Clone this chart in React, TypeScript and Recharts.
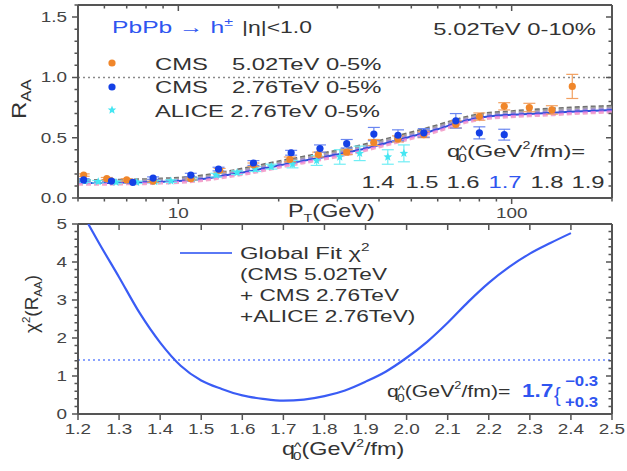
import React from 'react';
import { ComposedChart, Line, Scatter, ErrorBar, XAxis, YAxis, ReferenceLine } from 'recharts';

const FONT = '"Liberation Sans", Arial, Helvetica, sans-serif';
const INK = '#333';
const BLUE = '#2f55f0';
const AX = '#555';

// ---------- top panel: R_AA vs pT ----------
const ptGrid = [5, 6, 7, 8, 9, 10, 12, 14, 17, 20, 25, 30, 35, 40, 50, 60, 70, 80, 100, 120, 150, 200];
const raaQ14 = [0.15, 0.15, 0.153, 0.156, 0.162, 0.168, 0.19, 0.22, 0.265, 0.305, 0.355, 0.395, 0.435, 0.475, 0.545, 0.605, 0.66, 0.695, 0.72, 0.735, 0.75, 0.765];
const raaQ15 = [0.142, 0.142, 0.145, 0.148, 0.153, 0.159, 0.18, 0.21, 0.253, 0.293, 0.343, 0.383, 0.423, 0.463, 0.533, 0.593, 0.65, 0.685, 0.71, 0.723, 0.738, 0.753];
const raaQ16 = [0.133, 0.133, 0.136, 0.139, 0.144, 0.149, 0.17, 0.2, 0.241, 0.281, 0.331, 0.371, 0.411, 0.451, 0.521, 0.581, 0.64, 0.675, 0.7, 0.711, 0.726, 0.741];
const raaQ17 = [0.125, 0.125, 0.128, 0.13, 0.135, 0.14, 0.16, 0.19, 0.23, 0.27, 0.32, 0.36, 0.4, 0.44, 0.51, 0.57, 0.63, 0.665, 0.69, 0.7, 0.715, 0.73];
const raaQ18 = [0.117, 0.117, 0.12, 0.122, 0.127, 0.132, 0.151, 0.18, 0.219, 0.259, 0.309, 0.349, 0.389, 0.429, 0.499, 0.559, 0.62, 0.655, 0.68, 0.69, 0.704, 0.719];
const raaQ19 = [0.11, 0.11, 0.113, 0.115, 0.12, 0.125, 0.143, 0.171, 0.209, 0.249, 0.299, 0.339, 0.379, 0.419, 0.489, 0.549, 0.61, 0.645, 0.67, 0.68, 0.694, 0.709];
const qLabels = ['1.4', '1.5', '1.6', '1.7', '1.8', '1.9'];

const cms502Pt = [5.2, 6.1, 7.0, 8.4, 10.9, 13.3, 16.8, 21.6, 26.3, 32, 38.6, 45.6, 54.5, 68, 80, 95, 113, 132, 152];
const cms502Raa = [0.19, 0.16, 0.15, 0.14, 0.16, 0.23, 0.275, 0.32, 0.36, 0.38, 0.46, 0.49, 0.525, 0.61, 0.675, 0.76, 0.75, 0.73, 0.925];
const cms502Err = [0.01, 0.01, 0.01, 0.01, 0.01, 0.015, 0.015, 0.02, 0.02, 0.02, 0.025, 0.025, 0.025, 0.03, 0.03, 0.03, 0.035, 0.035, 0.1];

const cms276Pt = [5.2, 6.3, 7.3, 8.4, 10.9, 13.2, 16.8, 21.8, 26.6, 32, 38.6, 45.6, 54.5, 68, 80, 95];
const cms276Raa = [0.15, 0.14, 0.13, 0.165, 0.19, 0.24, 0.29, 0.375, 0.41, 0.45, 0.53, 0.52, 0.54, 0.64, 0.54, 0.525];
const cms276Err = [0.01, 0.01, 0.01, 0.01, 0.015, 0.015, 0.02, 0.02, 0.03, 0.035, 0.055, 0.045, 0.035, 0.06, 0.05, 0.045];

const alicePt = [5.25, 5.75, 6.5, 7.5, 8.5, 9.5, 11, 13, 15, 17, 19, 22, 26, 30.5, 35, 42.5, 47.5];
const aliceRaa = [0.14, 0.135, 0.13, 0.13, 0.135, 0.14, 0.16, 0.19, 0.21, 0.24, 0.26, 0.28, 0.31, 0.34, 0.37, 0.34, 0.37];
const aliceErr = [0.01, 0.01, 0.01, 0.01, 0.01, 0.01, 0.01, 0.015, 0.015, 0.02, 0.02, 0.03, 0.04, 0.06, 0.06, 0.06, 0.07];

const ptMajor = [10, 100];
const ptMinor = [5, 6, 7, 8, 9, 20, 30, 40, 50, 60, 70, 80, 90, 200];
const raaMajor = [0, 0.5, 1, 1.5];
const raaMinor = [0.1, 0.2, 0.3, 0.4, 0.6, 0.7, 0.8, 0.9, 1.1, 1.2, 1.3, 1.4, 1.6];

// ---------- bottom panel: chi2 vs q0 ----------
const q0Grid = [1.225, 1.25, 1.3, 1.35, 1.4, 1.45, 1.5, 1.55, 1.6, 1.65, 1.7, 1.75, 1.8, 1.85, 1.9, 1.95, 2.0, 2.05, 2.1, 2.15, 2.2, 2.25, 2.3, 2.35, 2.4];
const chi2Vals = [5.0, 4.52, 3.6, 2.66, 1.88, 1.27, 0.88, 0.66, 0.49, 0.4, 0.35, 0.38, 0.47, 0.62, 0.85, 1.12, 1.48, 1.9, 2.4, 2.95, 3.45, 3.87, 4.22, 4.5, 4.76];
const chi2Cut = 1.42;
const q0Major = [1.2, 1.3, 1.4, 1.5, 1.6, 1.7, 1.8, 1.9, 2.0, 2.1, 2.2, 2.3, 2.4, 2.5];
const chiMajor = [0, 1, 2, 3, 4, 5];
const chiMinor = [0.2, 0.4, 0.6, 0.8, 1.2, 1.4, 1.6, 1.8, 2.2, 2.4, 2.6, 2.8, 3.2, 3.4, 3.6, 3.8, 4.2, 4.4, 4.6, 4.8];

const curveStyle: Record<string, { stroke: string; dash?: string }> = {
  '1.4': { stroke: '#707070', dash: '5 3' },
  '1.5': { stroke: '#a2a2a2', dash: '5 3' },
  '1.6': { stroke: '#a08ad8', dash: '5 3' },
  '1.7': { stroke: '#2f4fd8' },
  '1.8': { stroke: '#d676e6', dash: '5 3' },
  '1.9': { stroke: '#f3a6cc', dash: '5 3' },
};

const theory = [raaQ14, raaQ15, raaQ16, raaQ17, raaQ18, raaQ19].map((vals, k) => ({
  q: qLabels[k],
  data: ptGrid.map((x, i) => ({ x, y: vals[i] })),
}));
const toPts = (xs: number[], ys: number[], es: number[]) => xs.map((x, i) => ({ x, y: ys[i], e: es[i] }));
const cms502 = toPts(cms502Pt, cms502Raa, cms502Err);
const cms276 = toPts(cms276Pt, cms276Raa, cms276Err);
const alice = toPts(alicePt, aliceRaa, aliceErr);
const chi2Data = q0Grid.map((x, i) => ({ x, y: chi2Vals[i] }));

const sortNum = (a: number[]) => [...a].sort((p, q) => p - q);
const isIn = (arr: number[], v: number) => arr.some((m) => Math.abs(m - v) < 1e-6);

// plot box width, shared by both panels (mirrors ticks onto the right frame)
const PLOT_W = 534;

function yTick(majors: number[], fmt: (v: number) => string) {
  return (props: any) => {
    const x = Number(props.x);
    const y = Number(props.y);
    const v = props.payload.value;
    const major = isIn(majors, v);
    const len = major ? 6 : 3.5;
    const xr = x + PLOT_W;
    return (
      <g>
        <path d={`M${x},${y}L${x - len},${y}M${xr},${y}L${xr - len},${y}`} stroke={AX} strokeWidth={1.5} fill="none" />
        {major && (
          <g transform={`translate(${x - 11},${y + 5}) scale(1.35,1)`}>
            <text x={0} y={0} fontSize={14} fill="#444" fontFamily={FONT} textAnchor="end">{fmt(v)}</text>
          </g>
        )}
      </g>
    );
  };
}

function xTick(majors: number[], plotH: number, fmt: (v: number) => string) {
  return (props: any) => {
    const x = Number(props.x);
    const y = Number(props.y);
    const v = props.payload.value;
    const major = isIn(majors, v);
    const len = major ? 6 : 3.5;
    const yt = y - plotH;
    return (
      <g>
        <path d={`M${x},${y}L${x},${y + len}M${x},${yt}L${x},${yt + len}`} stroke={AX} strokeWidth={1.5} fill="none" />
        {major && (
          <g transform={`translate(${x},${y + 20}) scale(1.35,1)`}>
            <text x={0} y={0} fontSize={14} fill="#444" fontFamily={FONT} textAnchor="middle">{fmt(v)}</text>
          </g>
        )}
      </g>
    );
  };
}

function T({ x, y, size = 17, fill = INK, weight = 400, anchor = 'start', sx = 1.4, rot = 0, children }: any) {
  return (
    <g transform={`translate(${x},${y}) rotate(${rot}) scale(${sx},1)`}>
      <text x={0} y={0} fontSize={size} fill={fill} fontWeight={weight} textAnchor={anchor} fontFamily={FONT}>
        {children}
      </text>
    </g>
  );
}

function QLabel({ x, y, size = 17, sx = 1.4, eq = false }: any) {
  return (
    <g transform={`translate(${x},${y}) scale(${sx},1)`}>
      <text x={0} y={0} fontFamily={FONT} fontSize={size} fill={INK}>
        q
        <tspan fontSize={size * 0.7} dx={-size * 0.05} dy={-size * 0.2}>^</tspan>
        <tspan fontSize={size * 0.65} dx={-size * 0.36} dy={size * 0.5}>0</tspan>
        <tspan dy={-size * 0.3}>(GeV</tspan>
        <tspan fontSize={size * 0.6} dy={-size * 0.45}>2</tspan>
        <tspan dy={size * 0.45}>{eq ? '/fm)=' : '/fm)'}</tspan>
      </text>
    </g>
  );
}

const starPath = (cx: number, cy: number, ro = 4.5, ri = 2) => {
  let d = '';
  for (let i = 0; i < 10; i++) {
    const r = i % 2 === 0 ? ro : ri;
    const a = -Math.PI / 2 + (i * Math.PI) / 5;
    d += `${i === 0 ? 'M' : 'L'}${cx + r * Math.cos(a)},${cy + r * Math.sin(a)}`;
  }
  return d + 'Z';
};

const dot = (fill: string) => (p: any) => <circle cx={p.cx} cy={p.cy} r={3.6} fill={fill} />;
const star = (fill: string) => (p: any) => <path d={starPath(p.cx, p.cy)} fill={fill} />;

const fmt1 = (v: number) => v.toFixed(1);

export default function App() {
  const ptTicks = sortNum([...ptMajor, ...ptMinor]);
  const raaTicks = sortNum([...raaMajor, ...raaMinor]);
  const chiTicks = sortNum([...chiMajor, ...chiMinor]);

  return (
    <div style={{ position: 'absolute', left: 0, top: 0, width: 627, height: 471, background: '#fff' }}>
      <svg width={627} height={471} style={{ position: 'absolute', left: 0, top: 0 }}>
        {/* top panel annotations */}
        <T x={112} y={33} fill={BLUE} sx={1.45}>
          PbPb → h<tspan fontSize={11} dy={-7}>±</tspan>
        </T>
        <T x={242} y={33} sx={1.35}>|η|&lt;1.0</T>
        <T x={596} y={35} anchor="end">5.02TeV 0-10%</T>

        <circle cx={112} cy={63} r={3.6} fill="#f0862a" />
        <circle cx={112} cy={87} r={3.6} fill="#1440e6" />
        <path d={starPath(112, 110)} fill="#45e6f2" />
        <T x={155} y={70}>CMS</T>
        <T x={232} y={70}>5.02TeV 0-5%</T>
        <T x={155} y={93}>CMS</T>
        <T x={232} y={93}>2.76TeV 0-5%</T>
        <T x={155} y={117}>ALICE 2.76TeV 0-5%</T>

        <QLabel x={447} y={157} eq />
        {qLabels.map((q, i) => (
          <T key={q} x={[378, 422, 463, 505, 547, 588][i]} y={188} anchor="middle" fill={q === '1.7' ? BLUE : INK}>{q}</T>
        ))}

        <T x={288} y={217} size={18} sx={1.3}>
          P<tspan fontSize={11} dy={5}>T</tspan><tspan dy={-5}>(GeV)</tspan>
        </T>
        <T x={26} y={119} size={20} sx={1.2} rot={-90}>
          R<tspan fontSize={14} dy={5}>AA</tspan>
        </T>

        {/* bottom panel annotations */}
        <line x1={180} y1={253} x2={232} y2={253} stroke="#5a78f5" strokeWidth={2.2} />
        <T x={240} y={259} sx={1.4}>
          Global Fit χ<tspan fontSize={11} dy={-8}>2</tspan>
        </T>
        <T x={240} y={280} sx={1.33}>(CMS 5.02TeV</T>
        <T x={240} y={301} sx={1.33}>+ CMS 2.76TeV</T>
        <T x={240} y={322} sx={1.33}>+ALICE 2.76TeV)</T>

        <QLabel x={387} y={397} sx={1.25} eq />
        <T x={522} y={397} size={18} sx={1.25} weight={700} fill={BLUE}>1.7</T>
        <T x={554} y={402} size={20} sx={1} fill={BLUE}>{'{'}</T>
        <T x={565} y={386} size={14} sx={1.2} weight={700} fill={BLUE}>−0.3</T>
        <T x={565} y={407} size={14} sx={1.2} weight={700} fill={BLUE}>+0.3</T>

        <QLabel x={282} y={455} size={18} sx={1.3} />
        <T x={38} y={333} size={18} sx={1.05} rot={-90}>
          χ<tspan fontSize={11} dy={-8}>2</tspan><tspan dy={8}>(R</tspan><tspan fontSize={11} dy={4}>AA</tspan><tspan dy={-4}>)</tspan>
        </T>
      </svg>

      <div style={{ position: 'absolute', left: 0, top: 0 }}>
        <ComposedChart width={627} height={220} margin={{ top: 5, right: 15, bottom: 0, left: 20 }}>
          <XAxis dataKey="x" type="number" scale="log" domain={[5, 200]} allowDataOverflow ticks={ptTicks} interval={0}
            height={22} tickSize={0} tickMargin={0} axisLine={{ stroke: AX, strokeWidth: 2 }} tick={xTick(ptMajor, 193, (v) => String(v))} />
          <YAxis dataKey="y" type="number" domain={[0, 1.6]} allowDataOverflow ticks={raaTicks} interval={0}
            width={58} tickSize={0} tickMargin={0} axisLine={{ stroke: AX, strokeWidth: 2 }} tick={yTick(raaMajor, fmt1)} />
          <ReferenceLine y={1.6} stroke={AX} strokeWidth={2} ifOverflow="visible" />
          <ReferenceLine x={200} stroke={AX} strokeWidth={2} ifOverflow="visible" />
          <ReferenceLine y={1} stroke="#8a8a8a" strokeDasharray="2 3" strokeWidth={1.5} />
          {theory.map((c) => (
            <Line key={c.q} data={c.data} dataKey="y" type="monotone" stroke={curveStyle[c.q].stroke}
              strokeDasharray={curveStyle[c.q].dash} strokeWidth={2} dot={false} isAnimationActive={false} />
          ))}
          <Scatter data={alice} shape={star('#45e6f2')} isAnimationActive={false}>
            <ErrorBar dataKey="e" direction="y" width={6} stroke="#70eef5" strokeWidth={1.2} />
          </Scatter>
          <Scatter data={cms502} shape={dot('#f0862a')} isAnimationActive={false}>
            <ErrorBar dataKey="e" direction="y" width={6} stroke="#f2a060" strokeWidth={1.2} />
          </Scatter>
          <Scatter data={cms276} shape={dot('#1440e6')} isAnimationActive={false}>
            <ErrorBar dataKey="e" direction="y" width={6} stroke="#6a86f0" strokeWidth={1.2} />
          </Scatter>
        </ComposedChart>
      </div>

      <div style={{ position: 'absolute', left: 0, top: 210 }}>
        <ComposedChart width={627} height={261} margin={{ top: 14, right: 15, bottom: 0, left: 20 }}>
          <XAxis dataKey="x" type="number" domain={[1.2, 2.5]} allowDataOverflow ticks={q0Major} interval={0}
            height={57} tickSize={0} tickMargin={0} axisLine={{ stroke: AX, strokeWidth: 2 }} tick={xTick(q0Major, 190, fmt1)} />
          <YAxis dataKey="y" type="number" domain={[0, 5]} allowDataOverflow ticks={chiTicks} interval={0}
            width={58} tickSize={0} tickMargin={0} axisLine={{ stroke: AX, strokeWidth: 2 }} tick={yTick(chiMajor, (v) => String(v))} />
          <ReferenceLine y={5} stroke={AX} strokeWidth={2} ifOverflow="visible" />
          <ReferenceLine x={2.5} stroke={AX} strokeWidth={2} ifOverflow="visible" />
          <ReferenceLine y={chi2Cut} stroke="#8aa4ff" strokeDasharray="2 3" strokeWidth={2} />
          <Line data={chi2Data} dataKey="y" type="monotone" stroke="#3a5cf5" strokeWidth={2.2} dot={false} isAnimationActive={false} />
        </ComposedChart>
      </div>
    </div>
  );
}
